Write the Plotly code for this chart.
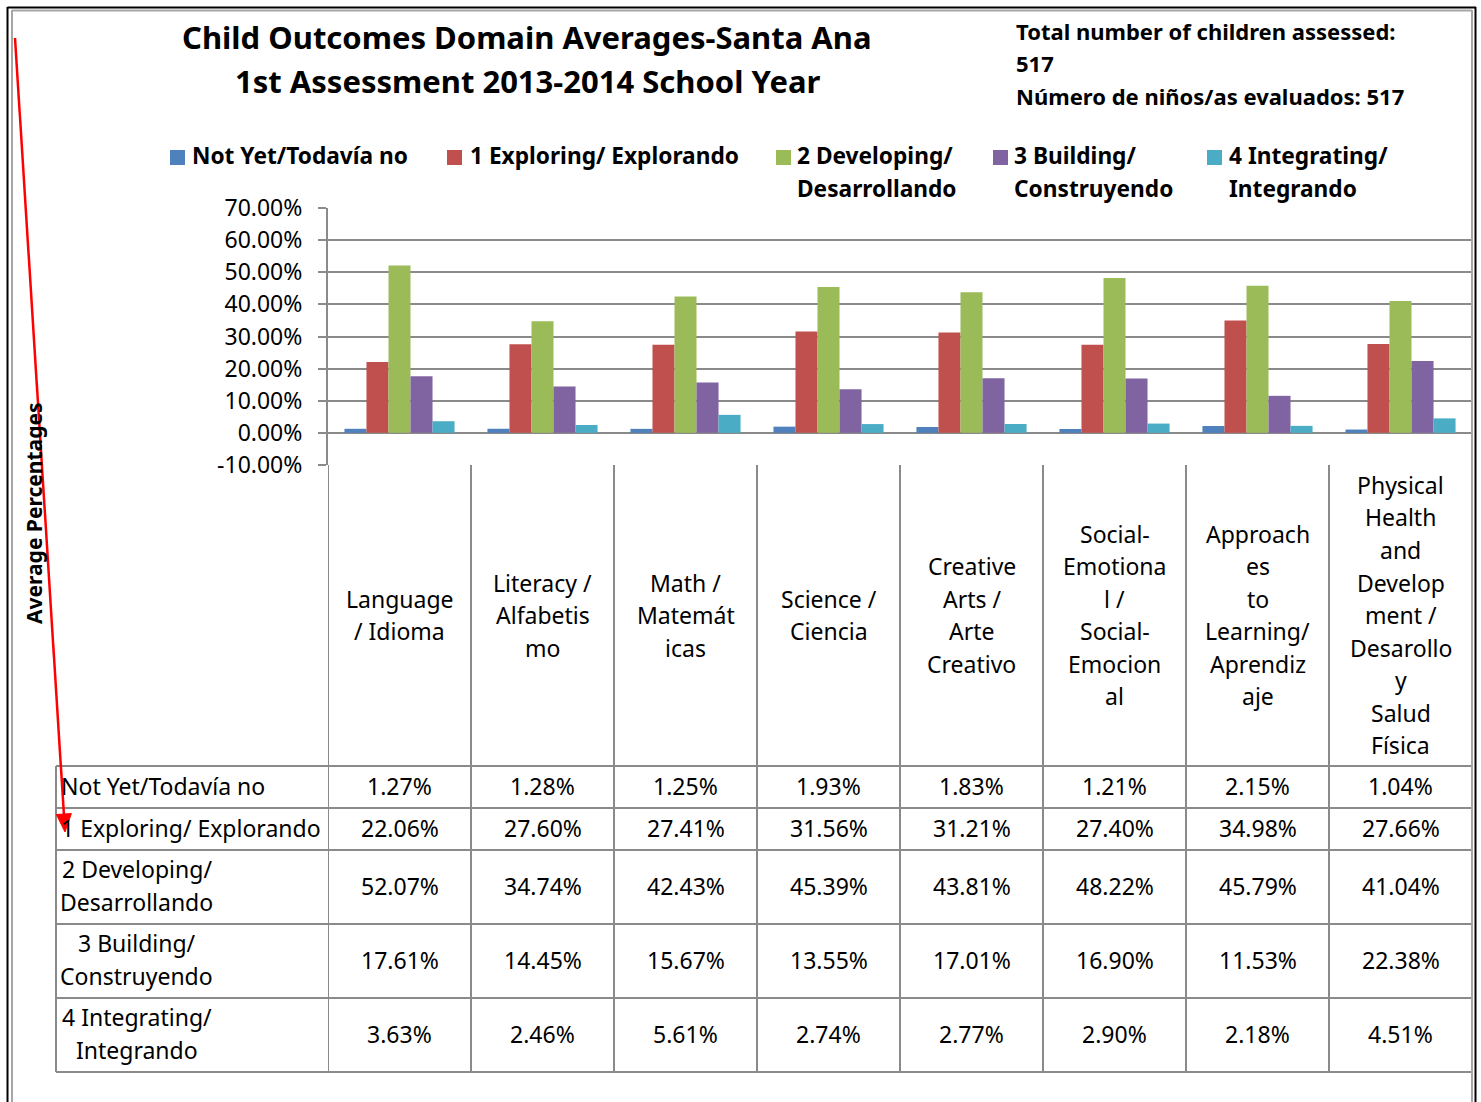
import plotly.graph_objects as go

W, H = 1481, 1102

# ---------------- data ----------------
category_lines = [
    ["Language", "/ Idioma"],
    ["Literacy /", "Alfabetis", "mo"],
    ["Math /", "Matemát", "icas"],
    ["Science /", "Ciencia"],
    ["Creative", "Arts /", "Arte", "Creativo"],
    ["Social-", "Emotiona", "l /", "Social-", "Emocion", "al"],
    ["Approach", "es", "to", "Learning/", "Aprendiz", "aje"],
    ["Physical", "Health", "and", "Develop", "ment /", "Desarollo", "y", "Salud", "Física"],
]
series_names = ["Not Yet/Todavía no", "1 Exploring/ Explorando", "2 Developing/ Desarrollando",
                "3 Building/ Construyendo", "4 Integrating/ Integrando"]
legend_lines = [["Not Yet/Todavía no"], ["1 Exploring/ Explorando"], ["2 Developing/", "Desarrollando"],
                ["3 Building/", "Construyendo"], ["4 Integrating/", "Integrando"]]
row_label_lines = [["Not Yet/Todavía no"], ["1 Exploring/ Explorando"], ["2 Developing/", "Desarrollando"],
                   ["3 Building/", "Construyendo"], ["4 Integrating/", "Integrando"]]

not_yet = [1.27, 1.28, 1.25, 1.93, 1.83, 1.21, 2.15, 1.04]
exploring = [22.06, 27.60, 27.41, 31.56, 31.21, 27.40, 34.98, 27.66]
developing = [52.07, 34.74, 42.43, 45.39, 43.81, 48.22, 45.79, 41.04]
building = [17.61, 14.45, 15.67, 13.55, 17.01, 16.90, 11.53, 22.38]
integrating = [3.63, 2.46, 5.61, 2.74, 2.77, 2.90, 2.18, 4.51]
series_values = [not_yet, exploring, developing, building, integrating]
colors = ["#4F81BD", "#C0504D", "#9BBB59", "#8064A2", "#4BACC6"]

y_tickvals = [70, 60, 50, 40, 30, 20, 10, 0, -10]
y_ticktext = ["70.00%", "60.00%", "50.00%", "40.00%", "30.00%", "20.00%", "10.00%", "0.00%", "-10.00%"]

title_lines = ["Child Outcomes Domain Averages-Santa Ana", "1st Assessment 2013-2014 School Year"]
info_lines = ["Total number of children assessed:", "517", "Número de niños/as evaluados: 517"]
y_title = "Average Percentages"

# ---------------- helpers ----------------
def px(x):
    return x / W

def py(y):
    return 1 - y / H

FONT = "Noto Sans, Open Sans, sans-serif"
GRID = "#8a8a8a"
n = len(category_lines)

fig = go.Figure()
idx = list(range(n))
for name, vals, col in zip(series_names, series_values, colors):
    fig.add_trace(go.Bar(x=idx, y=vals, name=name, marker_color=col,
                         marker_line_width=0, showlegend=False))

annotations = []
shapes = []

# title
for line, yy in zip(title_lines, [37.5, 81.5]):
    annotations.append(dict(x=px(527), y=py(yy), xref="paper", yref="paper", text=line,
                            showarrow=False, xanchor="center", yanchor="middle",
                            font=dict(family=FONT, size=31, color="black", weight="bold")))
# info text
for line, yy in zip(info_lines, [30.5, 63.5, 95.5]):
    annotations.append(dict(x=px(1014), y=py(yy), xref="paper", yref="paper", text=line,
                            showarrow=False, xanchor="left", yanchor="middle",
                            font=dict(family=FONT, size=22, color="black", weight="bold")))

# legend
sq_x = [170, 447, 776, 993, 1207]
tx_x = [190, 468, 795, 1012, 1227]
for lines, col, sx, tx in zip(legend_lines, colors, sq_x, tx_x):
    shapes.append(dict(type="rect", xref="paper", yref="paper", x0=px(sx), x1=px(sx + 15),
                       y0=py(165), y1=py(150), fillcolor=col, line_width=0))
    for k, line in enumerate(lines):
        annotations.append(dict(x=px(tx), y=py(156 + 33 * k), xref="paper", yref="paper", text=line,
                                showarrow=False, xanchor="left", yanchor="middle",
                                font=dict(family=FONT, size=22.7, color="black", weight="bold")))

# y title
annotations.append(dict(x=px(34), y=py(513), xref="paper", yref="paper", text=y_title,
                        showarrow=False, textangle=-90, xanchor="center", yanchor="middle",
                        font=dict(family=FONT, size=21, color="black", weight="bold")))

# ---------------- data table ----------------
TBL_TOP, HDR_BOT = 465, 766
row_bounds = [766, 808, 850, 924, 998, 1072]
LINE_H = 32.5
ROW_LINE_H = 33
# header category labels
for i, lines in enumerate(category_lines):
    m = len(lines)
    for k, line in enumerate(lines):
        yy = (TBL_TOP + HDR_BOT) / 2 + (k - (m - 1) / 2) * LINE_H - 0.5
        annotations.append(dict(x=i, y=py(yy), xref="x", yref="paper", text=line,
                                showarrow=False, xanchor="center", yanchor="middle",
                                font=dict(family=FONT, size=23, color="black")))
# row labels + values
for r, (lines, vals) in enumerate(zip(row_label_lines, series_values)):
    cy = (row_bounds[r] + row_bounds[r + 1]) / 2 - 1.5
    m = len(lines)
    if m == 1:
        annotations.append(dict(x=px(59), y=py(cy), xref="paper", yref="paper", text=lines[0],
                                showarrow=False, xanchor="left", yanchor="middle",
                                font=dict(family=FONT, size=23, color="black")))
    else:
        for k, line in enumerate(lines):
            yy = cy + (k - (m - 1) / 2) * ROW_LINE_H
            annotations.append(dict(x=px(136.5), y=py(yy), xref="paper", yref="paper", text=line,
                                    showarrow=False, xanchor="center", yanchor="middle",
                                    font=dict(family=FONT, size=23, color="black")))
    for i, v in enumerate(vals):
        annotations.append(dict(x=i, y=py(cy), xref="x", yref="paper", text=f"{v:.2f}%",
                                showarrow=False, xanchor="center", yanchor="middle",
                                font=dict(family=FONT, size=23, color="black")))

# table lines
for b in row_bounds:
    shapes.append(dict(type="line", xref="paper", yref="paper", x0=px(56), x1=px(1472),
                       y0=py(b), y1=py(b), line=dict(color=GRID, width=2)))
shapes.append(dict(type="line", xref="paper", yref="paper", x0=px(56), x1=px(56),
                   y0=py(766), y1=py(1072), line=dict(color=GRID, width=2)))
for i in range(n):
    shapes.append(dict(type="line", xref="x", yref="paper", x0=i - 0.5, x1=i - 0.5,
                       y0=py(TBL_TOP), y1=py(1072), line=dict(color=GRID, width=2)))

# chart borders
shapes.append(dict(type="line", xref="paper", yref="paper", x0=px(12), x1=px(1472),
                   y0=py(10.5), y1=py(10.5), line=dict(color="#a6a6a6", width=2)))
shapes.append(dict(type="line", xref="paper", yref="paper", x0=px(12), x1=px(12),
                   y0=py(10), y1=py(1102), line=dict(color="#a6a6a6", width=2)))
shapes.append(dict(type="line", xref="paper", yref="paper", x0=px(1472), x1=px(1472),
                   y0=py(10), y1=py(1102), line=dict(color="#a6a6a6", width=2)))
shapes.append(dict(type="line", xref="paper", yref="paper", x0=px(7.5), x1=px(1476),
                   y0=py(7.5), y1=py(7.5), line=dict(color="black", width=2)))
shapes.append(dict(type="line", xref="paper", yref="paper", x0=px(7.5), x1=px(7.5),
                   y0=py(7), y1=py(1102), line=dict(color="black", width=2)))
shapes.append(dict(type="line", xref="paper", yref="paper", x0=px(1475.5), x1=px(1475.5),
                   y0=py(7), y1=py(1102), line=dict(color="black", width=2)))

# red arrow
tail = (15, 38)
tip = (65, 832)
dx, dy = tip[0] - tail[0], tip[1] - tail[1]
L = (dx ** 2 + dy ** 2) ** 0.5
ux, uy = dx / L, dy / L
hl, hw = 18, 7.5
bx, by = tip[0] - hl * ux, tip[1] - hl * uy
shapes.append(dict(type="line", xref="paper", yref="paper", x0=px(tail[0]), y0=py(tail[1]),
                   x1=px(bx), y1=py(by), line=dict(color="#ff0000", width=2.5)))
p1 = (bx + hw * uy, by - hw * ux)
p2 = (bx - hw * uy, by + hw * ux)
path = f"M {px(tip[0])},{py(tip[1])} L {px(p1[0])},{py(p1[1])} L {px(p2[0])},{py(p2[1])} Z"
shapes.append(dict(type="path", xref="paper", yref="paper", path=path,
                   fillcolor="#ff0000", line=dict(color="#ff0000", width=1)))

fig.update_layout(
    width=W, height=H,
    margin=dict(l=0, r=0, t=0, b=0, pad=0, autoexpand=False),
    paper_bgcolor="white", plot_bgcolor="white",
    barmode="group", bargap=0.23, bargroupgap=0,
    showlegend=False,
    xaxis=dict(domain=[px(328), px(1472)], range=[-0.5, n - 0.5], showticklabels=False,
               showgrid=False, zeroline=False, ticks="", showline=False, fixedrange=True,
               automargin=False),
    yaxis=dict(domain=[py(465), py(208)], range=[-10, 70], tickvals=y_tickvals, ticktext=y_ticktext,
               showgrid=True, gridcolor=GRID, gridwidth=2, zeroline=False,
               showline=True, linecolor=GRID, linewidth=2,
               ticks="outside", ticklen=8, tickwidth=2, tickcolor=GRID,
               ticklabelstandoff=11, automargin=False, fixedrange=True,
               tickfont=dict(family=FONT, size=23, color="black")),
    annotations=annotations,
    shapes=shapes,
    font=dict(family=FONT),
)

fig.write_html("out.html", config={"displayModeBar": False},
               post_script="document.body.style.margin='0';document.body.style.overflow='hidden';")
